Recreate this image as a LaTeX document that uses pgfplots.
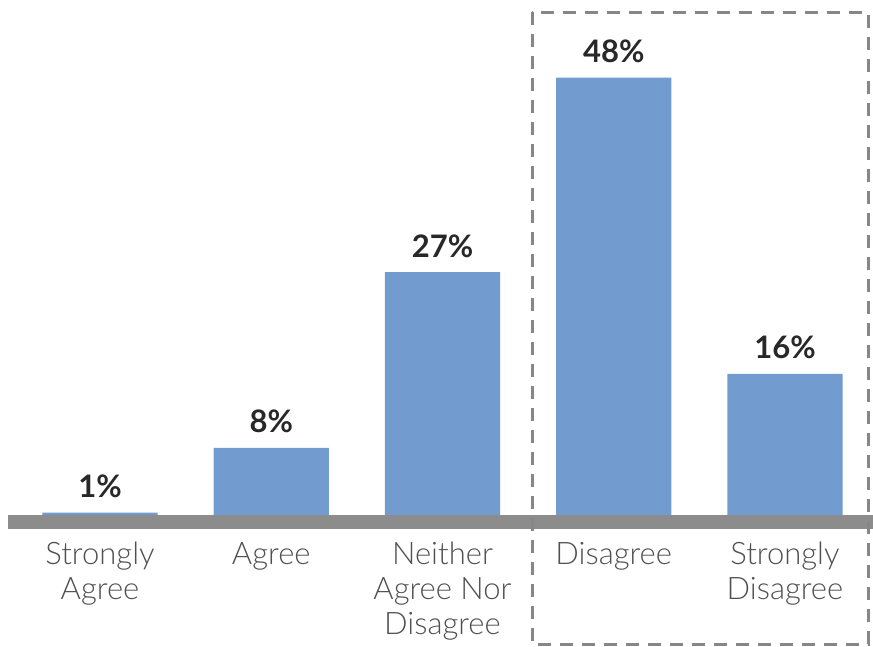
\documentclass[border=0pt]{standalone}
\usepackage{pgfplots}
\pgfplotsset{compat=1.18}
\usepackage{fontspec}
\setmainfont{Lato}
\newfontfamily\lightfont{Lato Light}
\definecolor{barblue}{RGB}{114,155,208}
\definecolor{axisgray}{RGB}{140,140,140}
\definecolor{boxgray}{RGB}{135,135,135}
\definecolor{valtext}{RGB}{40,40,40}
\definecolor{ticktext}{RGB}{80,80,80}
\begin{document}
\begin{tikzpicture}
\path[use as bounding box] (0,0) rectangle (873pt,646pt);
\begin{axis}[
  at={(0pt,0pt)}, anchor=south west,
  scale only axis,
  width=873pt, height=646pt,
  xmin=-0.584, xmax=4.514,
  ymin=-13.4, ymax=56.4,
  axis x line=middle, axis y line=none,
  x axis line style={draw=none},
  xtick={0,1,2,3,4},
  xticklabels={{Strongly\\Agree},Agree,{Neither\\Agree Nor\\Disagree},Disagree,{Strongly\\Disagree}},
  major tick length=0pt,
  xticklabel style={align=center, font=\lightfont\fontsize{31}{35}\selectfont, text=ticktext, anchor=north, inner sep=0pt, yshift=-20pt},
  ytick=\empty,
  clip=false,
  /pgf/number format/assume math mode=true,
  ybar, bar width=0.672,
  nodes near coords={\pgfmathprintnumber{\pgfplotspointmeta}\%},
  every node near coord/.append style={font=\bfseries\fontsize{31}{36}\selectfont, text=valtext, anchor=base, inner sep=0pt, yshift=15pt},
]
\addplot[fill=barblue, draw=none] coordinates {(0,1) (1,8) (2,27) (3,48) (4,16)};
\draw[axisgray, line width=14pt] (axis cs:-0.537,0) -- (axis cs:4.514,0);
\draw[boxgray, line width=3pt, dash pattern=on 13pt off 9pt] (axis cs:2.523,55.1) rectangle (axis cs:4.485,-13.2);
\end{axis}
\end{tikzpicture}
\end{document}
